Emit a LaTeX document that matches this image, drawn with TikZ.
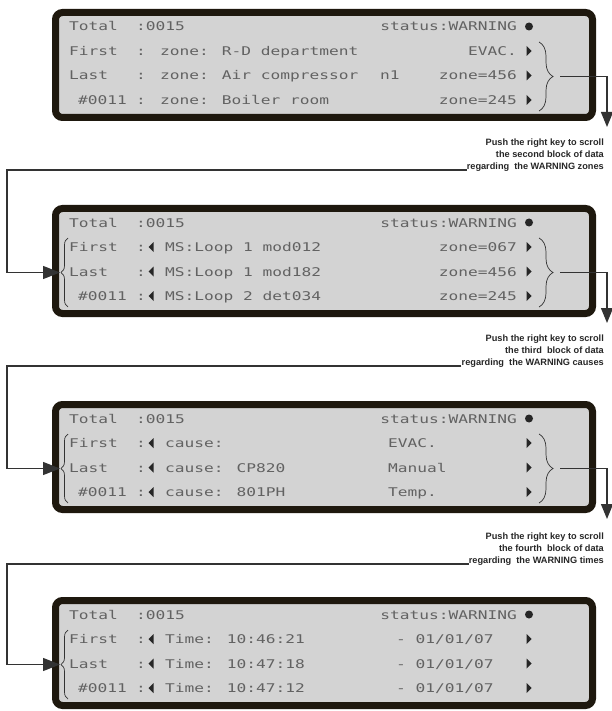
\documentclass[tikz,border=0pt]{standalone}
\usepackage{fontspec}
\setmainfont{Liberation Sans}
\newfontfamily\lcdfont[FakeStretch=1.35]{DejaVu Sans Mono}
\usepackage{xcolor}
\usetikzlibrary{arrows.meta,decorations.pathreplacing,calc}

\definecolor{lcdedge}{HTML}{1E180E}
\definecolor{lcdfill}{HTML}{D3D3D3}
\definecolor{lcdtext}{HTML}{626262}

\begin{document}
\begin{tikzpicture}[x=1pt, y=-1pt,
    lcd/.style={rectangle, draw=lcdedge, fill=lcdfill, line width=7pt, rounded corners=7pt, minimum width=537pt, minimum height=105pt, inner sep=0pt},
    lt/.style={font=\lcdfont\fontsize{12}{12}\selectfont, text=lcdtext, inner sep=0pt, anchor=base west},
    rt/.style={lt, anchor=base east},
    note/.style={font=\bfseries\fontsize{9.2}{12}\selectfont, text=black!85, align=right, inner sep=0pt, anchor=south east},
    arr/.style={draw=black!80, line width=1.3pt, -{Triangle[length=15pt, width=12pt]}},
    brc/.style={draw=black!80, line width=0.7pt, decorate, decoration={brace, amplitude=#1}},
    rtri/.pic={\fill[black!85] (-2.5,-5) -- (2.5,0) -- (-2.5,5) -- cycle;},
    ltri/.pic={\fill[black!85] (2.5,-5) -- (-2.5,0) -- (2.5,5) -- cycle;}
]
    \useasboundingbox (0,0) rectangle (612,711);

    % the four display screens
    \foreach \i/\t in {1/9,2/205,3/401,4/597} {
        \node [lcd] (p\i) at (324,\t+56) {};
        \node [lt] (tot\i) at (69,\t+22) {Total};
        \node [lt] (cnt\i) at (136,\t+22) {:0015};
        \node [rt] (st\i) at (517,\t+22) {status:WARNING};
        \fill [black!85] (529,\t+17.5) circle (4);
        \node [lt] (fi\i) at (69,\t+46.5) {First};
        \node [lt] (la\i) at (69,\t+71) {Last};
        \node [lt] (nr\i) at (78,\t+95.5) {\#0011};
        \node [lt] (fc\i) at (136,\t+46.5) {:};
        \node [lt] (lc\i) at (136,\t+71) {:};
        \node [lt] (nc\i) at (136,\t+95.5) {:};
        \foreach \y in {42,66.5,91}
            \pic at (529,\t+\y) {rtri};
    }
    \foreach \i/\t in {1/9,2/205,3/401} {
        \draw [brc=14] (539,\t+33) -- (539,\t+102);
        \coordinate (e\i) at (560,\t+67.5);
        \coordinate (s\i) at (607,\t+118);
    }
    \foreach \i/\t in {2/205,3/401,4/597} {
        \draw [brc=7] (68,\t+102) -- (68,\t+33);
        \foreach \y in {42,66.5,91}
            \pic at (151,\t+\y) {ltri};
        \coordinate (a\i) at (60,\t+67.5);
        \coordinate (w\i) at (7,\t+67.5);
    }

    % screen 1: zones
    \node [lt] (z11) at (160,55.5) {zone: R-D department};
    \node [rt] (z12) at (517,55.5) {EVAC.};
    \node [lt] (z21) at (160,80) {zone: Air compressor};
    \node [lt] (z22) at (380,80) {n1};
    \node [rt] (z23) at (517,80) {zone=456};
    \node [lt] (z31) at (160,104.5) {zone: Boiler room};
    \node [rt] (z32) at (517,104.5) {zone=245};

    % screen 2: modules
    \node [lt] (m11) at (165,251.5) {MS:Loop 1 mod012};
    \node [rt] (m12) at (517,251.5) {zone=067};
    \node [lt] (m21) at (165,276) {MS:Loop 1 mod182};
    \node [rt] (m22) at (517,276) {zone=456};
    \node [lt] (m31) at (165,300.5) {MS:Loop 2 det034};
    \node [rt] (m32) at (517,300.5) {zone=245};

    % screen 3: causes
    \node [lt] (c11) at (165,447.5) {cause:};
    \node [lt] (c12) at (388,447.5) {EVAC.};
    \node [lt] (c21) at (165,472) {cause: CP820};
    \node [lt] (c22) at (388,472) {Manual};
    \node [lt] (c31) at (165,496.5) {cause: 801PH};
    \node [lt] (c32) at (388,496.5) {Temp.};

    % screen 4: times
    \node [lt] (t11) at (165,643.5) {Time: 10:46:21};
    \node [lt] (t12) at (396,643.5) {- 01/01/07};
    \node [lt] (t21) at (165,668) {Time: 10:47:18};
    \node [lt] (t22) at (396,668) {- 01/01/07};
    \node [lt] (t31) at (165,692.5) {Time: 10:47:12};
    \node [lt] (t32) at (396,692.5) {- 01/01/07};

    % notes
    \node [note] (n1) at (604,172) {Push the right key to scroll\\the second block of data\\regarding\ \ the WARNING zones};
    \node [note] (n2) at (604,368) {Push the right key to scroll\\the third\ \ block of data\\regarding\ \ the WARNING causes};
    \node [note] (n3) at (604,566) {Push the right key to scroll\\the fourth\ \ block of data\\regarding\ \ the WARNING times};

    % connectors
    \draw [arr] (e1) -| (s1);
    \draw [arr] (e2) -| (s2);
    \draw [arr] (e3) -| (s3);
    \draw [arr, -{Triangle[length=17pt, width=13pt]}] ([yshift=2pt]n1.south west) -| (w2) -- (a2);
    \draw [arr, -{Triangle[length=17pt, width=13pt]}] ([yshift=2pt]n2.south west) -| (w3) -- (a3);
    \draw [arr, -{Triangle[length=17pt, width=13pt]}] ([yshift=2pt]n3.south west) -| (w4) -- (a4);
\end{tikzpicture}
\end{document}
